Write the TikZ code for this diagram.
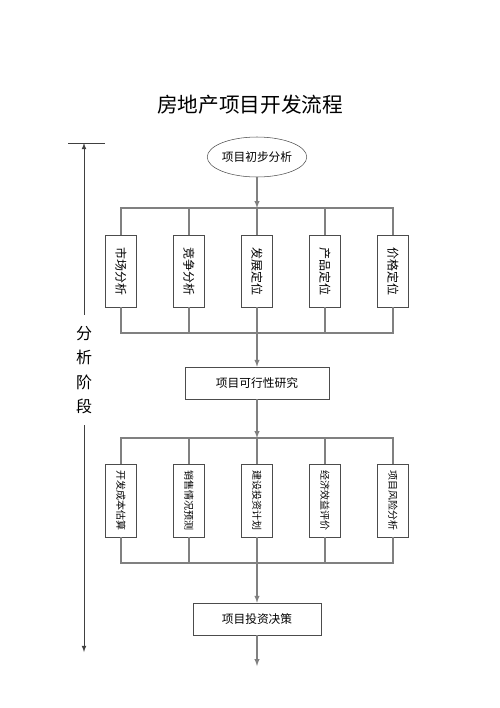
\documentclass[tikz,border=0pt]{standalone}
\usepackage{fontspec}
\setmainfont{Noto Sans CJK SC}
\usetikzlibrary{positioning, shapes.geometric, arrows}
\tikzset{
    heading/.style={font=\fontsize{15.5pt}{18pt}\selectfont},
    start/.style={ellipse, draw=black!70, minimum width=74pt, minimum height=30pt, inner sep=0pt, font=\fontsize{8.8pt}{10pt}\selectfont},
    task/.style={rectangle, draw=black!70, fill=white, rotate=-90, minimum width=54pt, minimum height=23pt, inner sep=0pt, font=\fontsize{9pt}{10pt}\selectfont},
    smalltask/.style={task, minimum width=55pt, font=\fontsize{7.5pt}{9pt}\selectfont},
    stepbox/.style={rectangle, draw=black!70, minimum height=24pt, inner sep=0pt, font=\fontsize{8.8pt}{10pt}\selectfont},
    stage/.style={align=center, inner sep=0pt, minimum height=82.5pt, font=\fontsize{12pt}{18.4pt}\selectfont},
    flow/.style={draw=gray, line width=0.8pt},
    bar/.style={draw=black!75, line width=0.6pt},
}
\begin{document}
\begin{tikzpicture}[x=0.75pt, y=-0.75pt, >=latex]
    \useasboundingbox (0,0) rectangle (500,708);
    \node [heading] (title) at (250,105) {房地产项目开发流程};
    \node [start] (start) at (257,157) {项目初步分析};
    % first row
    \coordinate (busAtop) at (257,208);
    \coordinate (busAbot) at (257,333);
    \node [task] (market) at (121,271) {市场分析};
    \node [task] (compete) at (189,271) {竞争分析};
    \node [task] (develop) at (257,271) {发展定位};
    \node [task] (product) at (325,271) {产品定位};
    \node [task] (price) at (393,271) {价格定位};
    \node [stepbox, minimum width=108pt] (feas) at (257,383) {项目可行性研究};
    % second row
    \coordinate (busBtop) at (257,438);
    \coordinate (busBbot) at (257,563);
    \node [smalltask] (cost) at (121,500.5) {开发成本估算};
    \node [smalltask] (sales) at (189,500.5) {销售情况预测};
    \node [smalltask] (build) at (257,500.5) {建设投资计划};
    \node [smalltask] (benefit) at (325,500.5) {经济效益评价};
    \node [smalltask] (risk) at (393,500.5) {项目风险分析};
    \node [stepbox, minimum width=96pt] (decide) at (257,619) {项目投资决策};
    \coordinate (finish) at (257,666);
    % stage marker
    \coordinate (barL) at (68,143);
    \coordinate (barR) at (105,143);
    \coordinate (stagetop) at (84,143);
    \coordinate (stageend) at (84,652);
    \node [stage] (stage) at (84,370) {分\\析\\阶\\段};

    \draw [flow, ->] (start) -- (busAtop);
    \draw [flow] (market) |- (busAtop) -| (price);
    \draw [flow] (compete) -- (compete |- busAtop);
    \draw [flow] (develop) -- (busAtop);
    \draw [flow] (product) -- (product |- busAtop);
    \draw [flow] (market) |- (busAbot) -| (price);
    \draw [flow] (compete) -- (compete |- busAbot);
    \draw [flow] (product) -- (product |- busAbot);
    \draw [flow, ->] (develop) -- (feas);

    \draw [flow, ->] (feas) -- (busBtop);
    \draw [flow] (cost) |- (busBtop) -| (risk);
    \draw [flow] (sales) -- (sales |- busBtop);
    \draw [flow] (build) -- (busBtop);
    \draw [flow] (benefit) -- (benefit |- busBtop);
    \draw [flow] (cost) |- (busBbot) -| (risk);
    \draw [flow] (sales) -- (sales |- busBbot);
    \draw [flow] (benefit) -- (benefit |- busBbot);
    \draw [flow, ->] (build) -- (decide);
    \draw [flow, ->] (decide) -- (finish);

    \draw [bar] (barL) -- (barR);
    \draw [bar, ->] (stage) -- (stagetop);
    \draw [bar, ->] (stage) -- (stageend);
\end{tikzpicture}
\end{document}
